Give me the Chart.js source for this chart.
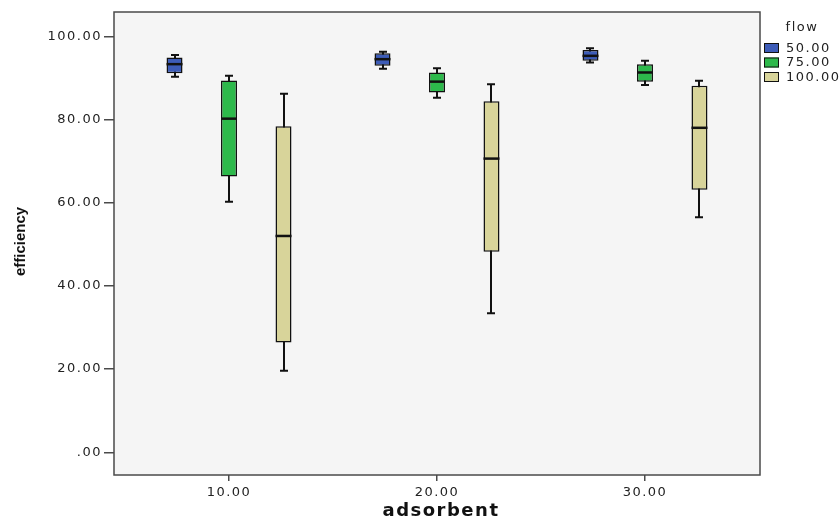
<!DOCTYPE html>
<html>
<head>
<meta charset="utf-8">
<script src="https://cdn.jsdelivr.net/npm/chart.js@4/dist/chart.umd.min.js"></script>
<style>
  html, body { margin: 0; padding: 0; background: #ffffff; }
  #c { display: block; }
</style>
</head>
<body>
<canvas id="c" width="840" height="521"></canvas>
<script>
// Adsorbent levels (x axis) and flow groups (legend)
const adsorbent = [10, 20, 30];
const adsorbentLabels = ['10.00', '20.00', '30.00'];
const flowLabels = ['50.00', '75.00', '100.00'];

// Efficiency five-number summaries per adsorbent level: [min, q1, median, q3, max]
const flow50  = [[90.3, 91.1, 93.3, 94.9, 95.5], [92.2, 92.9, 94.5, 95.9, 96.3], [93.7, 94.1, 95.3, 96.7, 97.1]];
const flow75  = [[60.2, 66.3, 80.2, 89.4, 90.5], [85.2, 86.5, 89.1, 91.3, 92.3], [88.3, 89.1, 91.3, 93.3, 94.1]];
const flow100 = [[19.6, 26.4, 52.0, 78.4, 86.2], [33.4, 48.2, 70.6, 84.4, 88.5], [56.5, 63.1, 78.0, 88.1, 89.3]];

// Efficiency axis ticks
const yTicks = [0, 20, 40, 60, 80, 100];
const yTickLabels = ['.00', '20.00', '40.00', '60.00', '80.00', '100.00'];

// Styling
const fillColors = ['#3d5cb8', '#2db94b', '#d8d49a'];
const groupShift = [-2.62, 0, 2.62];   // horizontal shift of each flow box within a cluster (x units)
const inkColor = '#111111';
const frameColor = '#4a4a4a';
const tickFont = { family: 'DejaVu Sans', size: 13 };

const seriesStats = [flow50, flow75, flow100];

const datasets = seriesStats.map((stats, s) => ({
  label: flowLabels[s],
  stats: stats,
  data: stats.map((st, i) => ({ x: adsorbent[i] + groupShift[s], y: [st[1], st[3]] })),
  backgroundColor: fillColors[s],
  borderColor: inkColor,
  borderWidth: 1.5,
  borderSkipped: false,
  grouped: false,
  maxBarThickness: 16
}));

// Plot panel: grey background, letter spacing for texts, outline frame
const panel = {
  id: 'panel',
  beforeDraw(chart) {
    const { ctx, chartArea: a } = chart;
    ctx.save();
    ctx.fillStyle = '#f5f5f5';
    ctx.fillRect(a.left, a.top, a.right - a.left, a.bottom - a.top);
    ctx.restore();
    ctx.letterSpacing = '1.5px';
  },
  afterDraw(chart) {
    const { ctx, chartArea: a } = chart;
    ctx.save();
    ctx.strokeStyle = frameColor;
    ctx.lineWidth = 1.5;
    ctx.strokeRect(a.left, a.top, a.right - a.left, a.bottom - a.top);
    ctx.restore();
  }
};

// Whiskers behind the boxes, medians on top
const boxParts = {
  id: 'boxParts',
  beforeDatasetsDraw(chart) {
    const { ctx, scales: { x, y } } = chart;
    ctx.save();
    ctx.strokeStyle = inkColor;
    ctx.lineWidth = 2;
    chart.data.datasets.forEach((ds) => {
      ds.stats.forEach((st, i) => {
        const px = Math.round(x.getPixelForValue(ds.data[i].x));
        const yMin = y.getPixelForValue(st[0]);
        const yMax = y.getPixelForValue(st[4]);
        ctx.beginPath();
        ctx.moveTo(px, yMin); ctx.lineTo(px, yMax);
        ctx.moveTo(px - 4, yMin); ctx.lineTo(px + 4, yMin);
        ctx.moveTo(px - 4, yMax); ctx.lineTo(px + 4, yMax);
        ctx.stroke();
      });
    });
    ctx.restore();
  },
  afterDatasetsDraw(chart) {
    const { ctx, scales: { y } } = chart;
    ctx.save();
    ctx.strokeStyle = inkColor;
    ctx.lineWidth = 2.5;
    chart.data.datasets.forEach((ds, d) => {
      const meta = chart.getDatasetMeta(d);
      ds.stats.forEach((st, i) => {
        const bar = meta.data[i];
        const py = y.getPixelForValue(st[2]);
        ctx.beginPath();
        ctx.moveTo(bar.x - bar.width / 2, py);
        ctx.lineTo(bar.x + bar.width / 2, py);
        ctx.stroke();
      });
    });
    ctx.restore();
  }
};

// Axis titles and the flow legend
const annotations = {
  id: 'annotations',
  afterDraw(chart) {
    const { ctx, chartArea: a } = chart;
    ctx.save();
    ctx.fillStyle = inkColor;

    // y title
    ctx.letterSpacing = '0px';
    ctx.font = 'bold 15px "Liberation Sans"';
    ctx.textAlign = 'center';
    ctx.textBaseline = 'middle';
    ctx.save();
    ctx.translate(21, (a.top + a.bottom) / 2 - 2);
    ctx.rotate(-Math.PI / 2);
    ctx.fillText('efficiency', 0, 0);
    ctx.restore();

    // x title
    ctx.letterSpacing = '1.5px';
    ctx.font = 'bold 18px "DejaVu Sans"';
    ctx.fillText('adsorbent', (a.left + a.right) / 2 + 4, 511);

    // legend
    ctx.font = '13px "DejaVu Sans"';
    ctx.fillStyle = '#222222';
    ctx.fillText('flow', 802, 28);
    ctx.textAlign = 'left';
    const rowY = [48, 62.5, 77];
    chart.data.datasets.forEach((ds, d) => {
      ctx.fillStyle = ds.backgroundColor;
      ctx.fillRect(764, rowY[d] - 5, 15, 10);
      ctx.strokeStyle = inkColor;
      ctx.lineWidth = 1;
      ctx.strokeRect(764.5, rowY[d] - 4.5, 14, 9);
      ctx.fillStyle = '#222222';
      ctx.fillText(ds.label, 786, rowY[d] + 0.5);
    });
    ctx.restore();
  }
};

new Chart(document.getElementById('c'), {
  type: 'bar',
  data: { datasets },
  options: {
    responsive: false,
    animation: false,
    devicePixelRatio: 1,
    layout: { padding: { left: 0, top: 12, right: 80, bottom: 0 } },
    plugins: { legend: { display: false }, tooltip: { enabled: false } },
    scales: {
      x: {
        type: 'linear',
        offset: false,
        min: 4.47,
        max: 35.53,
        afterBuildTicks(scale) { scale.ticks = adsorbent.map(v => ({ value: v })); },
        afterFit(scale) { scale.height = 46; },
        ticks: {
          font: tickFont,
          color: '#222222',
          padding: 4,
          maxRotation: 0,
          autoSkip: false,
          callback(value) { return adsorbentLabels[adsorbent.indexOf(value)]; }
        },
        grid: { offset: false, drawOnChartArea: false, drawTicks: true, tickLength: 6, color: frameColor, lineWidth: 1.5 },
        border: { display: false }
      },
      y: {
        type: 'linear',
        min: -5.46,
        max: 105.84,
        afterBuildTicks(scale) { scale.ticks = yTicks.map(v => ({ value: v })); },
        afterFit(scale) { scale.width = 114; },
        ticks: {
          font: tickFont,
          color: '#222222',
          padding: 2,
          autoSkip: false,
          callback(value) { return yTickLabels[yTicks.indexOf(value)]; }
        },
        grid: { drawOnChartArea: false, drawTicks: true, tickLength: 10, color: frameColor, lineWidth: 1.5 },
        border: { display: false }
      }
    }
  },
  plugins: [panel, boxParts, annotations]
});
</script>
</body>
</html>
